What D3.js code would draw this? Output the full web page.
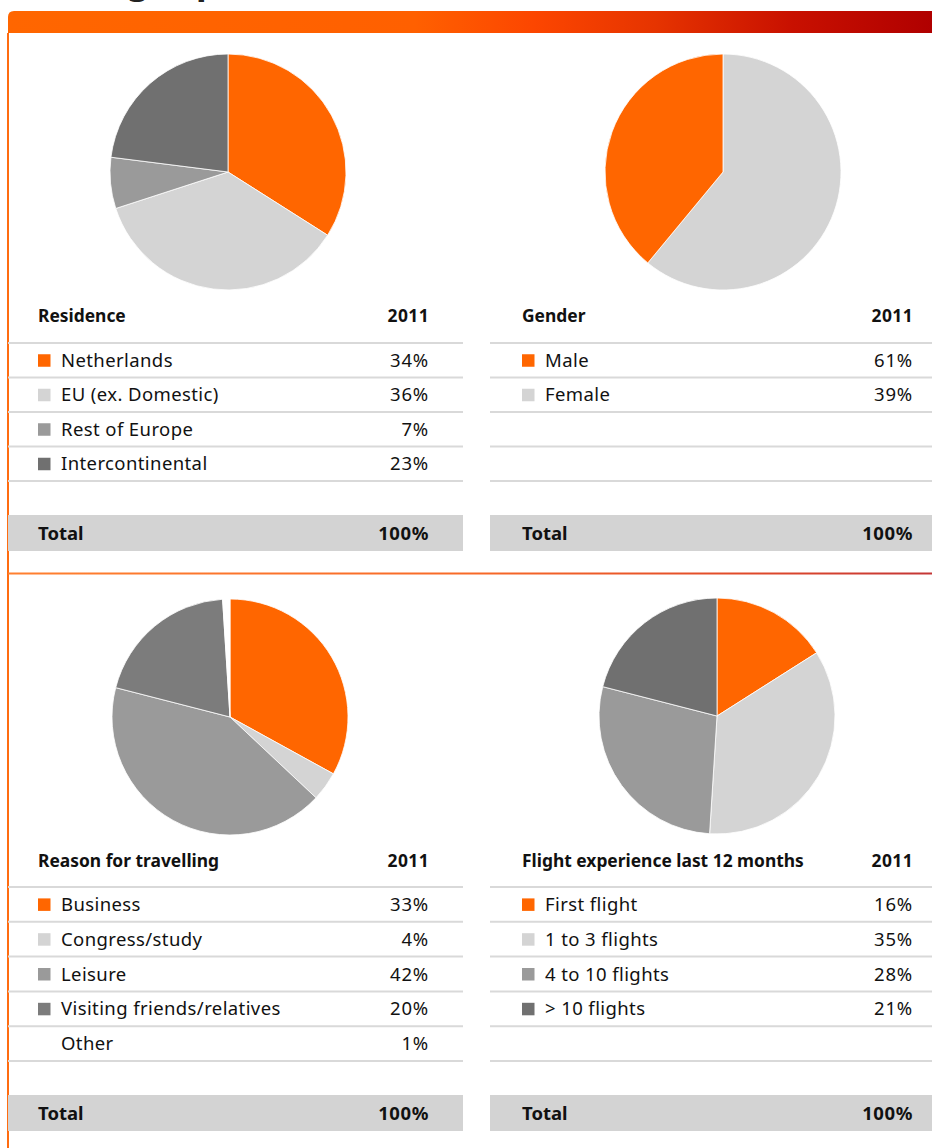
<!DOCTYPE html>
<html>
<head>
<meta charset="utf-8">
<script src="https://cdn.jsdelivr.net/npm/d3@7"></script>
<style>
html,body{margin:0;padding:0;background:#fff;}
svg{display:block;font-family:"Noto Sans",sans-serif;}
</style>
</head>
<body>
<svg id="chart" width="932" height="1148"></svg>
<script>
// ---- data ----
const pageTitle = "Passenger profile";
const yearLabel = "2011";
const totalLabel = "Total";
const totalValue = "100%";

const residenceTitle = "Residence";
const residenceLabels = ["Netherlands", "EU (ex. Domestic)", "Rest of Europe", "Intercontinental"];
const residenceValues = [34, 36, 7, 23];

const genderTitle = "Gender";
const genderLabels = ["Male", "Female"];
const genderValues = [61, 39];
// slices as drawn in the pie (clockwise from top)
const genderPieValues = [61, 39];

const reasonTitle = "Reason for travelling";
const reasonLabels = ["Business", "Congress/study", "Leisure", "Visiting friends/relatives", "Other"];
const reasonValues = [33, 4, 42, 20, 1];

const flightTitle = "Flight experience last 12 months";
const flightLabels = ["First flight", "1 to 3 flights", "4 to 10 flights", "> 10 flights"];
const flightValues = [16, 35, 28, 21];

// ---- styles ----
const C = {orange:"#ff6600", light:"#d4d4d4", mid:"#9a9a9a", dark:"#707070", white:"#ffffff"};
const residenceColors = [C.orange, C.light, C.mid, C.dark];
const genderColors = [C.orange, C.light];
const genderPieColors = [C.light, C.orange];
const reasonColors = [C.orange, C.light, C.mid, "#7c7c7c", C.white];
const reasonSquares = [true, true, true, true, false];
const flightColors = [C.orange, C.light, C.mid, C.dark];

const svg = d3.select("#chart");
const defs = svg.append("defs");

const hg = defs.append("linearGradient").attr("id","hdr").attr("x1","0").attr("x2","1").attr("y1","0").attr("y2","0");
[[0,"#ff6600"],[0.44,"#ff6000"],[0.57,"#fc4600"],[0.70,"#e63400"],[0.85,"#c81000"],[1,"#b00000"]]
  .forEach(([o,c])=>hg.append("stop").attr("offset",o).attr("stop-color",c));
const dg = defs.append("linearGradient").attr("id","div").attr("x1","0").attr("x2","1").attr("y1","0").attr("y2","0");
[[0,"#ff8030"],[0.5,"#f86a28"],[0.8,"#e04a2a"],[1,"#c43636"]]
  .forEach(([o,c])=>dg.append("stop").attr("offset",o).attr("stop-color",c));

// cut-off title at top (only descenders visible, as in the source)
const tt = svg.append("text").attr("x",0).attr("y",-20).attr("font-size",30).attr("font-weight","bold")
  .attr("fill","#222").text(pageTitle);
(function(){
  const node = tt.node();
  const a = node.getSubStringLength(0,6), b = node.getSubStringLength(6,4);
  const k = 69 / b, fs = 30 * k;
  tt.attr("font-size", fs).attr("x", 127 - a * k).attr("y", 1.5 - 0.24 * fs);
})();

// header bar with rounded top-left corner
const hx0=8, hx1=932, hy0=11, hy1=33, r=6;
svg.append("path")
  .attr("d",`M${hx0},${hy1} L${hx0},${hy0+r} Q${hx0},${hy0} ${hx0+r},${hy0} L${hx1},${hy0} L${hx1},${hy1} Z`)
  .attr("fill","url(#hdr)");

// left vertical line
svg.append("rect").attr("x",7).attr("y",hy1).attr("width",2).attr("height",1148-hy1).attr("fill","#ff6c10");
// middle divider
svg.append("rect").attr("x",8).attr("y",572.5).attr("width",924).attr("height",2).attr("fill","url(#div)");

const arc = d3.arc().innerRadius(0).outerRadius(118);
const pie = d3.pie().sort(null).value(d=>d);

function drawPie(cx, cy, values, colors){
  const g = svg.append("g").attr("transform",`translate(${cx},${cy})`);
  g.selectAll("path").data(pie(values)).join("path")
    .attr("d",arc).attr("fill",(d,i)=>colors[i])
    .attr("stroke","#fff").attr("stroke-width",0.8);
}

function drawTable(opt){
  const {x0,x1,tl,tr,headY,lineY0,rowH,nLines,totalY,title,labels,values,colors,squares} = opt;
  const g = svg.append("g");
  g.append("text").attr("x",tl).attr("y",headY).attr("dy","0.35em")
    .attr("font-size",17.4).attr("font-weight","bold").attr("fill","#111").text(title);
  g.append("text").attr("x",tr).attr("y",headY).attr("dy","0.35em").attr("text-anchor","end")
    .attr("font-size",17.4).attr("font-weight","bold").attr("letter-spacing",0.4).attr("fill","#111").text(yearLabel);
  const ys = d3.range(nLines).map(k=>lineY0+k*rowH);
  g.selectAll("line.sep").data(ys).join("line").attr("class","sep")
    .attr("x1",x0).attr("x2",x1).attr("y1",d=>d).attr("y2",d=>d)
    .attr("stroke","#d9d9d9").attr("stroke-width",2);
  labels.forEach((lab,i)=>{
    const cy = lineY0 + rowH*i + rowH/2;
    if(!squares || squares[i]){
      g.append("rect").attr("x",tl).attr("y",cy-6).attr("width",12.5).attr("height",12.5).attr("fill",colors[i]);
    }
    g.append("text").attr("x",tl+23).attr("y",cy).attr("dy","0.36em")
      .attr("font-size",18.5).attr("letter-spacing",0.4).attr("fill","#111").text(lab);
    g.append("text").attr("x",tr).attr("y",cy).attr("dy","0.36em").attr("text-anchor","end")
      .attr("font-size",18.5).attr("letter-spacing",0.8).attr("fill","#111").text(values[i]+"%");
  });
  g.append("rect").attr("x",x0).attr("y",totalY).attr("width",x1-x0).attr("height",36).attr("fill","#d3d3d3");
  g.append("text").attr("x",tl).attr("y",totalY+18).attr("dy","0.36em")
    .attr("font-size",18.5).attr("font-weight","bold").attr("fill","#111").text(totalLabel);
  g.append("text").attr("x",tr).attr("y",totalY+18).attr("dy","0.36em").attr("text-anchor","end")
    .attr("font-size",18.5).attr("font-weight","bold").attr("letter-spacing",0.6).attr("fill","#111").text(totalValue);
}

// pies
drawPie(228,172,residenceValues,residenceColors);
drawPie(723,172,genderPieValues,genderPieColors);
drawPie(230,717,reasonValues,reasonColors);
drawPie(717,716,flightValues,flightColors);

// tables
const L = {x0:8,x1:463,tl:38,tr:429};
const R = {x0:490,x1:932,tl:522,tr:913};
drawTable({...L,headY:316,lineY0:343,rowH:34.5,nLines:5,totalY:515,title:residenceTitle,labels:residenceLabels,values:residenceValues,colors:residenceColors});
drawTable({...R,headY:316,lineY0:343,rowH:34.5,nLines:5,totalY:515,title:genderTitle,labels:genderLabels,values:genderValues,colors:genderColors});
drawTable({...L,headY:861,lineY0:887,rowH:34.8,nLines:6,totalY:1095,title:reasonTitle,labels:reasonLabels,values:reasonValues,colors:reasonColors,squares:reasonSquares});
drawTable({...R,headY:861,lineY0:887,rowH:34.8,nLines:6,totalY:1095,title:flightTitle,labels:flightLabels,values:flightValues,colors:flightColors});
</script>
</body>
</html>
